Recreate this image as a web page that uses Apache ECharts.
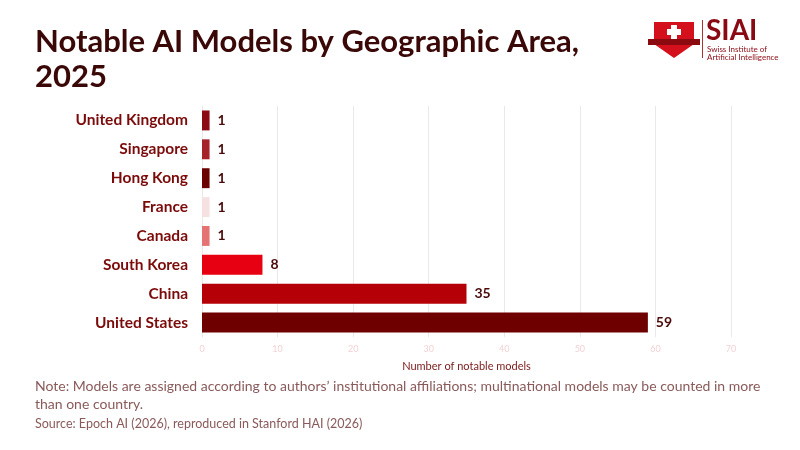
<!DOCTYPE html>
<html><head><meta charset="utf-8">
<script src="https://cdn.jsdelivr.net/npm/echarts@6/dist/echarts.min.js"></script>
<style>html,body{margin:0;padding:0;background:#fff}#c{width:800px;height:450px}</style>
</head><body><div id="c"></div>
<script>
const categories = ["United Kingdom","Singapore","Hong Kong","France","Canada","South Korea","China","United States"];
const values = [1,1,1,1,1,8,35,59];
const barColors = ["#8B0A14","#A52228","#6B0000","#F6E1E1","#E57373","#E60012","#B50008","#6E0000"];
const xTicks = [0,10,20,30,40,50,60,70];

const FONT = "Lato";
const chart = echarts.init(document.getElementById('c'));
chart.setOption({
  backgroundColor:'#fff',
  animation:false,
  textStyle:{fontFamily:FONT},
  grid:{left:202,right:69,top:106,bottom:113,containLabel:false},
  xAxis:{type:'value',min:xTicks[0],max:xTicks[xTicks.length-1],interval:10,
    name:'Number of notable models',nameLocation:'middle',nameGap:24,
    nameTextStyle:{color:'#7a1a1a',fontSize:11,fontFamily:FONT},
    axisLine:{show:false},axisTick:{show:false},
    axisLabel:{color:'#f3d3d6',fontSize:9,margin:8},
    splitLine:{lineStyle:{color:'#e9e9e9',width:1}}},
  yAxis:{type:'category',data:categories,inverse:true,
    axisLine:{show:false},axisTick:{show:false},
    axisLabel:{color:'#7b0a0a',fontSize:15.5,fontWeight:'bold',margin:14,fontFamily:FONT}},
  series:[{type:'bar',data:values.map((v,i)=>({value:v,itemStyle:{color:barColors[i]}})),
    barCategoryGap:'31%',
    label:{show:true,position:'right',distance:8,color:'#4a0a0a',fontWeight:'bold',fontSize:14,fontFamily:FONT}}],
  graphic:[
    {type:'text',left:35,top:24,style:{text:'Notable AI Models by Geographic Area,\n2025',fill:'#3b0808',font:'bold 31px '+FONT,lineHeight:35}},
    {type:'text',left:35,top:377,style:{text:'Note: Models are assigned according to authors\u2019 institutional affiliations; multinational models may be counted in more\nthan one country.',fill:'#8a5a5a',font:'14px '+FONT,lineHeight:18}},
    {type:'text',left:35,top:417,style:{text:'Source: Epoch AI (2026), reproduced in Stanford HAI (2026)',fill:'#8a5a5a',font:'12.5px '+FONT}},
    {type:'polygon',shape:{points:[[654,22],[694,22],[694,44],[674,58],[654,44]]},style:{fill:'#d3101c'}},
    {type:'rect',shape:{x:648,y:39,width:52,height:6},style:{fill:'#8a0a10'}},
    {type:'rect',shape:{x:671,y:25,width:6,height:14},style:{fill:'#fff'}},
    {type:'rect',shape:{x:667,y:29,width:14,height:6},style:{fill:'#fff'}},
    {type:'rect',shape:{x:702,y:20,width:1,height:38},style:{fill:'#b03030'}},
    {type:'text',left:706,top:17,style:{text:'SIAI',fill:'#8a0a14',font:'bold 28px '+FONT}},
    {type:'text',left:707,top:45,style:{text:'Swiss Institute of\nArtificial Intelligence',fill:'#8a0a14',font:'8px '+FONT,lineHeight:8}}
  ]
});
</script></body></html>
